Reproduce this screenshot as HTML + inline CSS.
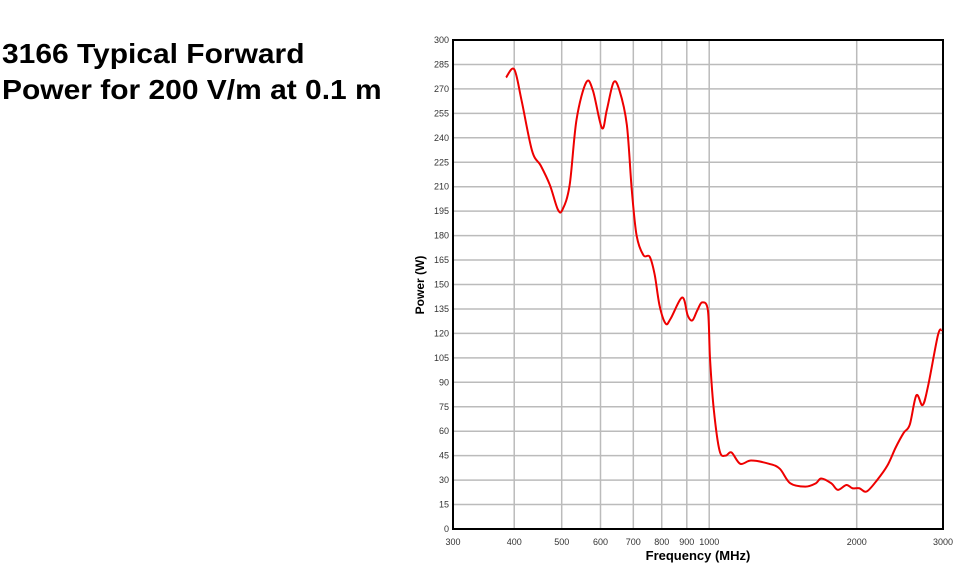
<!DOCTYPE html>
<html><head><meta charset="utf-8"><style>
body{margin:0;width:966px;height:584px;background:#fff;overflow:hidden;font-family:"Liberation Sans",sans-serif}
#title{position:absolute;left:2px;top:36px;font-size:28px;font-weight:bold;line-height:36px;color:#000;transform:scaleX(1.07);transform-origin:0 0;white-space:nowrap}
svg{position:absolute;left:0;top:0}
</style></head><body>
<div id="title">3166 Typical Forward<br>Power for 200 V/m at 0.1 m</div>
<svg id="chart" width="966" height="584"></svg>
<script>
const freqs=[385,400,414,435,453,473,491,502,519,536,561,579,604,618,638,656,679,695,711,734,756,774,792,815,834,881,904,924,945,968,994,1004,1022,1050,1080,1110,1157,1218,1325,1393,1464,1571,1650,1693,1775,1830,1905,1960,2025,2095,2201,2311,2402,2494,2566,2647,2726,2798,2930,2985];
const power=[277,282,263,232,223,211,196,196,211,251,274,269,246,257,274,269,248,208,180,168,167,156,137,126,129,142,131,128,134,139,134,104,73,48,45,47,40,42,40,37,28,26,28,31,28,24,27,25,25,23,30,39,50,59,64,82,76,88,119,122];
const yTicks=[0,15,30,45,60,75,90,105,120,135,150,165,180,195,210,225,240,255,270,285,300];
const xTicks=[300,400,500,600,700,800,900,1000,2000,3000];
const L=453,R=943,T=40,B=529;
const xs=f=>L+(R-L)*Math.log10(f/300);
const ys=v=>B-(B-T)*v/300;
const svg=document.getElementById('chart');
const NS='http://www.w3.org/2000/svg';
function mk(tag,attrs){const e=document.createElementNS(NS,tag);for(const k in attrs)e.setAttribute(k,attrs[k]);svg.appendChild(e);return e;}
yTicks.forEach(v=>{
 const g=mk('line',{x1:L,x2:R,y1:ys(v),y2:ys(v),stroke:'#bbb','stroke-width':1.5});
 
 
 const t=mk('text',{x:L-4,y:ys(v)+3,'text-anchor':'end','font-size':9,fill:'#333'});
 t.textContent=v;
 
 
});
xTicks.forEach(f=>{
 const g=mk('line',{x1:xs(f),x2:xs(f),y1:T,y2:B,stroke:'#bbb','stroke-width':1.5});
 
 
 const t=mk('text',{x:xs(f),y:B+16,'text-anchor':'middle','font-size':9,fill:'#333'});
 t.textContent=f;
 
 
});
const fr=mk('rect',{x:L,y:T,width:R-L,height:B-T,fill:'none',stroke:'#000','stroke-width':2});


const pts=freqs.map((f,i)=>[xs(f),ys(power[i])]);
let d='M'+pts[0][0]+','+pts[0][1];
for(let i=0;i<pts.length-1;i++){
 const p0=pts[Math.max(i-1,0)],p1=pts[i],p2=pts[i+1],p3=pts[Math.min(i+2,pts.length-1)];
 const c1=[p1[0]+(p2[0]-p0[0])/6,p1[1]+(p2[1]-p0[1])/6],c2=[p2[0]-(p3[0]-p1[0])/6,p2[1]-(p3[1]-p1[1])/6];
 d+=' C'+c1+' '+c2+' '+p2;
}
const line=mk('path',{d:d,fill:'none',stroke:'#e00','stroke-width':2});


const xt=mk('text',{x:698,y:560,'text-anchor':'middle','font-size':13,'font-weight':'bold'});
xt.textContent='Frequency (MHz)';


const yt=mk('text',{x:0,y:0,'text-anchor':'middle','font-size':12,'font-weight':'bold',transform:'translate(424,285) rotate(-90)'});
yt.textContent='Power (W)';


</script>
</body></html>
